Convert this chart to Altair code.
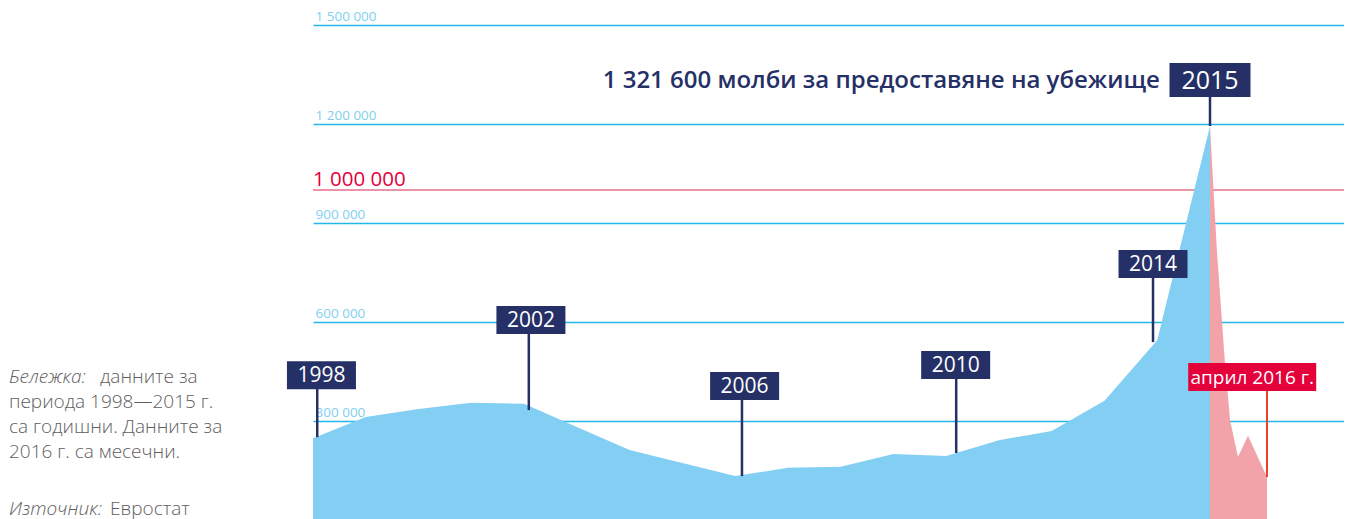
import altair as alt
import pandas as pd

# ---------------- data ----------------
years = [1998, 1999, 2000, 2001, 2002, 2003, 2004, 2005, 2006,
         2007, 2008, 2009, 2010, 2011, 2012, 2013, 2014, 2015]
applications = [248000, 312000, 336000, 355000, 352000, 282000, 212000, 173000, 133000,
                158000, 161000, 200000, 194000, 242000, 270000, 361000, 545000, 1194000]

monthly_pos = [2015.0, 2015.13, 2015.28, 2015.38, 2015.53, 2015.72, 2016.08]
monthly_values = [1194000, 818000, 485000, 303000, 191000, 255000, 130000]

grid_values = [300000, 600000, 900000, 1200000, 1500000]
grid_labels = ["300 000", "600 000", "900 000", "1 200 000", "1 500 000"]

threshold_value = [1000000]
threshold_label = ["1 000 000"]

marker_labels = ["1998", "2002", "2006", "2010", "2014"]
marker_pos = [1998.08, 2002.09, 2006.13, 2010.19, 2013.92]
marker_box_pos = [1998.16, 2002.13, 2006.18, 2010.18, 2013.92]
marker_end = [251000, 333000, 133000, 203000, 539000]
marker_box = [439000, 606000, 406000, 470000, 776000]

peak_label = ["2015"]
peak_pos = [2015.0]
peak_value = [1194000]
peak_box = [1333000]

headline = ["1 321 600 молби за предоставяне на убежище"]
headline_pos = [2014.05]

latest_label = ["април 2016 г."]
latest_pos = [2016.08]
latest_box_pos = [2015.80]
latest_value = [130000]
latest_box = [433000]

note_first_italic = ["Бележка:"]
note_first_rest = ["данните за"]
note_lines = ["периода 1998—2015 г.", "са годишни. Данните за", "2016 г. са месечни."]
source_italic = ["Източник:"]
source_rest = ["Евростат"]

# ---------------- styles ----------------
NAVY = "#253066"
BLUE_AREA = "#82CFF3"
PINK_AREA = "#F2A3AA"
GRID = "#23B7EA"
GRID_LABEL = "#7FCFF0"
RED = "#E4003A"
RED_LINE = "#E4718C"
APRIL_LINE = "#E8412C"
GRAY = "#5E5E5E"
FONT = "Open Sans"

LEFT = 305          # plot starts at page x = 313
W = 1031            # svg ends at page x = 1344 (fits the 1352 window)
H = 512
PX_PER_YEAR = 897 / 17.0
X_MAX = 1998 + W / PX_PER_YEAR
Y_MAX = 1500000 * H / 495.0

xs = alt.Scale(domain=[1998, X_MAX], nice=False, zero=False)
ys = alt.Scale(domain=[0, Y_MAX], nice=False, zero=False)

label_expr = " : ".join(f"datum.value == {v} ? '{l}'" for v, l in zip(grid_values, grid_labels)) + " : ''"
yaxis = alt.Axis(values=grid_values, grid=True, gridColor=GRID, gridWidth=1.5,
                 domain=False, ticks=False, tickSize=0, labelAlign="left",
                 labelBaseline="alphabetic", labelPadding=-2, labelOffset=-5,
                 labelColor=GRID_LABEL, labelFontSize=13.5, labelFont=FONT,
                 labelExpr=label_expr, title=None)


def X(field):
    return alt.X(f"{field}:Q", scale=xs, axis=None)


def Y(field):
    return alt.Y(f"{field}:Q", scale=ys, axis=yaxis)


blue_df = pd.DataFrame({"pos": years, "value": applications})
pink_df = pd.DataFrame({"pos": monthly_pos, "value": monthly_values})
marker_df = pd.DataFrame({"label": marker_labels, "pos": marker_pos, "boxpos": marker_box_pos,
                          "end": marker_end, "box": marker_box})
peak_df = pd.DataFrame({"label": peak_label, "pos": peak_pos, "end": peak_value, "box": peak_box})
head_df = pd.DataFrame({"text": headline, "pos": headline_pos, "box": peak_box})
latest_df = pd.DataFrame({"label": latest_label, "pos": latest_pos, "boxpos": latest_box_pos,
                          "end": latest_value, "box": latest_box})
thr_df = pd.DataFrame({"value": threshold_value, "label": threshold_label})
one_df = pd.DataFrame({"k": [0]})


def box_path(w, h):
    r = h / w
    return f"M-1,{-r:.4f}L1,{-r:.4f}L1,{r:.4f}L-1,{r:.4f}Z"


blue = alt.Chart(blue_df).mark_area(color=BLUE_AREA, opacity=1).encode(x=X("pos"), y=Y("value"))
pink = alt.Chart(pink_df).mark_area(color=PINK_AREA, opacity=1).encode(x=X("pos"), y=Y("value"))

thr_rule = alt.Chart(thr_df).mark_rule(color=RED_LINE, strokeWidth=1.5).encode(
    y=Y("value"), x=alt.value(0), x2=alt.value(W))
thr_text = alt.Chart(thr_df).mark_text(align="left", baseline="alphabetic", dy=-4,
                                       fontSize=20.5, fontWeight=500, font=FONT, color=RED).encode(
    y=Y("value"), x=alt.value(0), text="label:N")

m_rule = alt.Chart(marker_df).mark_rule(color=NAVY, strokeWidth=2.5).encode(
    x=X("pos"), y=Y("end"), y2="box:Q")
m_box = alt.Chart(marker_df).mark_point(shape=box_path(69, 28), size=69 * 69, filled=True,
                                        opacity=1, strokeWidth=0, color=NAVY).encode(
    x=X("boxpos"), y=Y("box"))
m_text = alt.Chart(marker_df).mark_text(color="white", fontSize=21, font=FONT, fontWeight=500,
                                        baseline="middle", dy=1).encode(
    x=X("boxpos"), y=Y("box"), text="label:N")

p_rule = alt.Chart(peak_df).mark_rule(color=NAVY, strokeWidth=2.5).encode(
    x=X("pos"), y=Y("end"), y2="box:Q")
p_box = alt.Chart(peak_df).mark_point(shape=box_path(81, 34), size=81 * 81, filled=True,
                                      opacity=1, strokeWidth=0, color=NAVY).encode(
    x=X("pos"), y=Y("box"))
p_text = alt.Chart(peak_df).mark_text(color="white", fontSize=25, font=FONT, fontWeight=500,
                                      baseline="middle", dy=1).encode(
    x=X("pos"), y=Y("box"), text="label:N")

head = alt.Chart(head_df).mark_text(color=NAVY, fontSize=24, font=FONT, fontWeight=600,
                                    align="right", baseline="middle", dy=1).encode(
    x=X("pos"), y=Y("box"), text="text:N")

l_rule = alt.Chart(latest_df).mark_rule(color=APRIL_LINE, strokeWidth=2).encode(
    x=X("pos"), y=Y("end"), y2="box:Q")
l_box = alt.Chart(latest_df).mark_point(shape=box_path(128, 28), size=128 * 128, filled=True,
                                        opacity=1, strokeWidth=0, color=RED).encode(
    x=X("boxpos"), y=Y("box"))
l_text = alt.Chart(latest_df).mark_text(color="white", fontSize=19, font=FONT, fontWeight=500,
                                        baseline="middle", dy=1).encode(
    x=X("boxpos"), y=Y("box"), text="label:N")

note_style = dict(align="left", baseline="middle", fontSize=19, font=FONT, color=GRAY, fontWeight=300)
n1 = alt.Chart(one_df).mark_text(fontStyle="italic", **note_style).encode(
    x=alt.value(9 - 313), y=alt.value(377 - 8), text=alt.value(note_first_italic[0]))
n2 = alt.Chart(one_df).mark_text(**note_style).encode(
    x=alt.value(100 - 313), y=alt.value(377 - 8), text=alt.value(note_first_rest[0]))
n3 = alt.Chart(one_df).mark_text(lineHeight=25, **note_style).encode(
    x=alt.value(9 - 313), y=alt.value(402 - 8), text=alt.value(note_lines))
n4 = alt.Chart(one_df).mark_text(fontStyle="italic", **note_style).encode(
    x=alt.value(9 - 313), y=alt.value(509 - 8), text=alt.value(source_italic[0]))
n5 = alt.Chart(one_df).mark_text(**note_style).encode(
    x=alt.value(110 - 313), y=alt.value(509 - 8), text=alt.value(source_rest[0]))

chart = alt.layer(
    thr_rule, blue, pink, thr_text,
    m_rule, m_box, m_text,
    p_rule, p_box, p_text, head,
    l_rule, l_box, l_text,
    n1, n2, n3, n4, n5,
).properties(
    width=W, height=H,
    background="white",
    padding={"left": LEFT, "top": 0, "right": 0, "bottom": 0},
    autosize=alt.AutoSizeParams(type="none"),
).configure_view(strokeWidth=0, stroke="transparent")

chart.save("out.html", embed_options={"renderer": "svg", "actions": False})
